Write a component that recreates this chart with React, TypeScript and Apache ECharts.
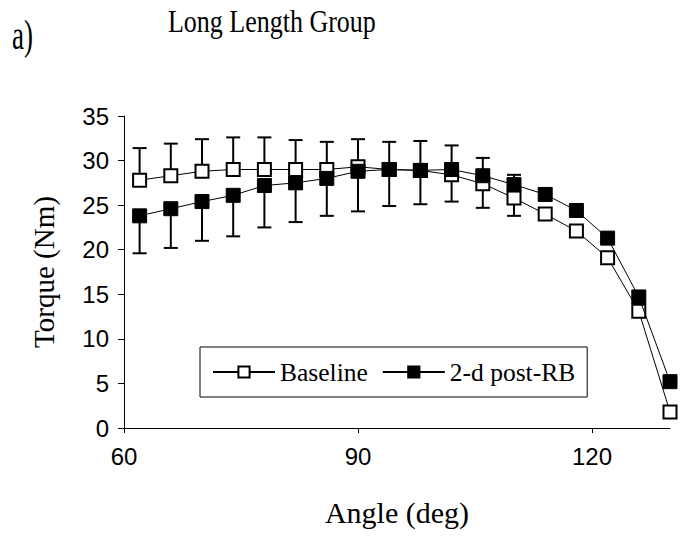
import React, { useEffect, useRef } from "react";
import * as echarts from "echarts";

const angles = [62, 66, 70, 74, 78, 82, 86, 90, 94, 98, 102, 106, 110, 114, 118, 122, 126, 130];
const baseline = [27.8, 28.3, 28.8, 29.0, 29.0, 29.0, 29.0, 29.3, 29.0, 28.9, 28.4, 27.4, 25.8, 24.0, 22.1, 19.1, 13.1, 1.8];
const postRB = [23.8, 24.6, 25.4, 26.1, 27.2, 27.5, 28.0, 28.8, 29.0, 28.9, 29.0, 28.3, 27.3, 26.2, 24.4, 21.3, 14.7, 5.2];
// upper error-bar ends (Baseline + SD) and lower error-bar ends (post-RB - SD)
const baselineUpper = [31.4, 31.9, 32.4, 32.6, 32.6, 32.3, 32.1, 32.4, 32.1, 32.2, 31.7, 30.3, 28.4];
const postLower = [19.6, 20.2, 21.0, 21.5, 22.5, 23.1, 23.8, 24.3, 24.9, 25.1, 25.4, 24.7, 23.8];
const xTicks = [60, 90, 120];

const serif = "'Liberation Serif', 'Times New Roman', serif";
const sans = "'Liberation Sans', Arial, sans-serif";

export default function App() {
  const ref = useRef<HTMLDivElement>(null);
  useEffect(() => {
    if (!ref.current) return;
    const chart = echarts.init(ref.current, null, { renderer: "svg" });
    const errData: number[][] = [];
    baselineUpper.forEach((u, i) => errData.push([angles[i], baseline[i], u]));
    postLower.forEach((l, i) => errData.push([angles[i], postRB[i], l]));
    const renderErr = (params: any, api: any) => {
      const p0 = api.coord([api.value(0), api.value(1)]);
      const p1 = api.coord([api.value(0), api.value(2)]);
      const hw = 7;
      return {
        type: "group",
        children: [
          { type: "line", shape: { x1: p0[0], y1: p0[1], x2: p1[0], y2: p1[1] }, style: { stroke: "#000", lineWidth: 2 } },
          { type: "line", shape: { x1: p1[0] - hw, y1: p1[1], x2: p1[0] + hw, y2: p1[1] }, style: { stroke: "#000", lineWidth: 2 } },
        ],
      };
    };
    chart.setOption({
      animation: false,
      backgroundColor: "#fff",
      graphic: [
        {
          type: "text",
          x: 168,
          y: 6,
          scaleY: 1.2,
          style: { text: "Long Length Group", fontFamily: serif, fontSize: 26, fill: "#000", align: "left", verticalAlign: "top" },
        },
        {
          type: "text",
          x: 12,
          y: 13,
          scaleY: 1.6,
          style: { text: "a)", fontFamily: serif, fontSize: 27, fill: "#000", align: "left", verticalAlign: "top" },
        },
      ],
      legend: {
        data: ["Baseline", "2-d post-RB"],
        left: 200,
        top: 347,
        orient: "horizontal",
        borderColor: "#000",
        borderWidth: 1,
        borderRadius: 0,
        padding: [12, 12],
        itemWidth: 62,
        itemHeight: 14,
        itemGap: 14,
        textStyle: { fontFamily: serif, fontSize: 25.5, color: "#000" },
      },
      grid: { left: 124, right: 21, top: 116, bottom: 108, containLabel: false },
      xAxis: {
        type: "value",
        min: 60,
        max: 130,
        name: "Angle (deg)",
        nameLocation: "middle",
        nameGap: 69,
        nameTextStyle: { fontFamily: serif, fontSize: 30, color: "#000" },
        axisLine: { show: true, lineStyle: { color: "#000", width: 1 } },
        axisTick: { show: true, length: 5, lineStyle: { color: "#000" }, customValues: xTicks },
        axisLabel: { fontFamily: sans, fontSize: 24, color: "#000", margin: 16, customValues: xTicks },
        splitLine: { show: false },
      },
      yAxis: {
        type: "value",
        min: 0,
        max: 35,
        interval: 5,
        name: "Torque (Nm)",
        nameLocation: "middle",
        nameGap: 66,
        nameTextStyle: { fontFamily: serif, fontSize: 29, color: "#000" },
        axisLine: { show: true, lineStyle: { color: "#000", width: 1 } },
        axisTick: { show: true, length: 6, lineStyle: { color: "#000" } },
        axisLabel: { fontFamily: sans, fontSize: 24, color: "#000", margin: 15 },
        splitLine: { show: false },
      },
      series: [
        {
          type: "custom",
          name: "errors",
          renderItem: renderErr,
          data: errData,
          z: 1,
          encode: { x: 0, y: [1, 2] },
        },
        {
          type: "line",
          name: "Baseline",
          data: angles.map((a, i) => [a, baseline[i]]),
          symbol: "rect",
          symbolSize: 13,
          showAllSymbol: true,
          lineStyle: { color: "#000", width: 1 },
          itemStyle: { color: "#fff", borderColor: "#000", borderWidth: 2 },
          z: 2,
        },
        {
          type: "line",
          name: "2-d post-RB",
          data: angles.map((a, i) => [a, postRB[i]]),
          symbol: "rect",
          symbolSize: 14,
          showAllSymbol: true,
          lineStyle: { color: "#000", width: 1 },
          itemStyle: { color: "#000", borderColor: "#000", borderWidth: 1 },
          z: 3,
        },
      ],
    });
    return () => chart.dispose();
  }, []);
  return <div ref={ref} style={{ position: "fixed", left: 0, top: 0, width: 691, height: 536 }} />;
}
